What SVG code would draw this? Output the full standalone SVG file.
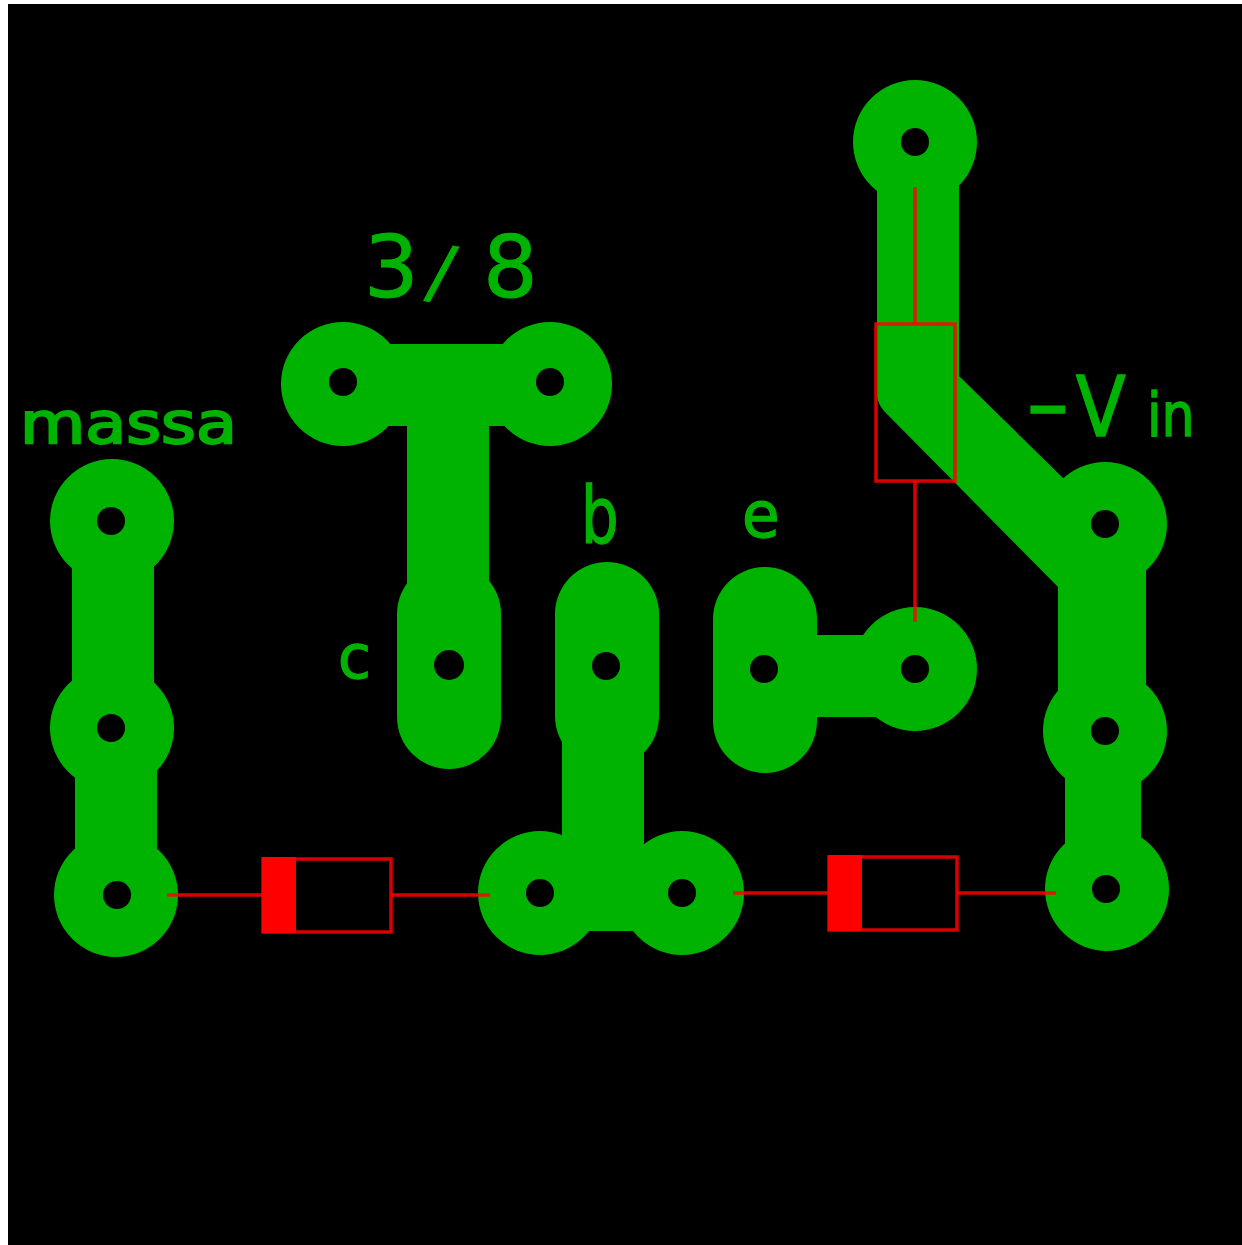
<svg xmlns="http://www.w3.org/2000/svg" width="1242" height="1245" viewBox="0 0 1242 1245">
<defs>
<style>
.pad{fill:#00b300}
.hole{fill:#000}
.tr{fill:none;stroke:#00b300;stroke-linecap:butt;stroke-linejoin:round}
.oval{fill:none;stroke:#00b300;stroke-width:104;stroke-linecap:round}
.red{fill:none;stroke:#ff0000;stroke-width:3.5;opacity:.85}
.band{fill:#ff0000}
text{fill:#00b300;stroke:#00b300;font-family:"DejaVu Sans",sans-serif}
</style>
<g id="p"><circle class="pad" r="62"/></g>
</defs>
<rect width="1242" height="1245" fill="#fff"/>
<rect x="8" y="4" width="1234" height="1241" fill="#000"/>
<g id="copper-traces">
<path class="tr" stroke-width="82" d="M113 521V728"/>
<path class="tr" stroke-width="82" d="M116 728V895"/>
<path class="tr" stroke-width="82" d="M343 385H550"/>
<path class="tr" stroke-width="82" d="M448 385V665"/>
<path class="tr" stroke-width="82" d="M603 665V893"/>
<path class="tr" stroke-width="76" d="M540 893H682"/>
<path class="tr" stroke-width="82" d="M764 676H916"/>
<path class="pad" d="M877 142H959V376L1063 478L1105 524L1146 560V731H1058V587L884 411Q878 404 877 396Z"/>
<path class="tr" stroke-width="76" d="M1103 731V889"/>
<path class="oval" d="M449 614V717"/>
<path class="oval" d="M607 614V716"/>
<path class="oval" d="M765 619V721"/>
</g>
<g id="pad-1"><use href="#p" x="915" y="142"/><circle class="hole" cx="915" cy="142" r="14"/></g>
<g id="pad-2"><use href="#p" x="343" y="384"/><circle class="hole" cx="343" cy="382" r="14"/></g>
<g id="pad-3"><use href="#p" x="550" y="384"/><circle class="hole" cx="550" cy="382" r="14"/></g>
<g id="pad-4"><use href="#p" x="112" y="521"/><circle class="hole" cx="111" cy="521" r="14"/></g>
<g id="pad-5"><use href="#p" x="112" y="728"/><circle class="hole" cx="111" cy="728" r="14"/></g>
<g id="pad-6"><use href="#p" x="116" y="895"/><circle class="hole" cx="117" cy="895" r="14"/></g>
<g id="pad-c"><circle class="hole" cx="449" cy="665" r="15"/></g>
<g id="pad-b"><circle class="hole" cx="606" cy="666" r="14"/></g>
<g id="pad-e"><circle class="hole" cx="764" cy="669" r="14"/></g>
<g id="pad-7"><use href="#p" x="915" y="669"/><circle class="hole" cx="915" cy="669" r="14"/></g>
<g id="pad-8"><use href="#p" x="1105" y="524"/><circle class="hole" cx="1105" cy="524" r="14"/></g>
<g id="pad-9"><use href="#p" x="1105" y="731"/><circle class="hole" cx="1105" cy="731" r="14"/></g>
<g id="pad-10"><use href="#p" x="1107" y="889"/><circle class="hole" cx="1106" cy="889" r="14"/></g>
<g id="pad-11"><use href="#p" x="540" y="893"/><circle class="hole" cx="540" cy="893" r="14"/></g>
<g id="pad-12"><use href="#p" x="682" y="893"/><circle class="hole" cx="682" cy="893" r="14"/></g>
<g id="connectors">
<path class="red" d="M167 895H263M391 895H490"/>
<path class="red" d="M733 893H829M957 893H1056"/>
<path class="red" d="M915 187V324M915 481V622"/>
</g>
<g id="diode-1"><rect class="band" x="262" y="857" width="34" height="76"/><rect class="red" x="263" y="859" width="128" height="73"/></g>
<g id="diode-2"><rect class="band" x="828" y="855" width="34" height="76"/><rect class="red" x="829" y="857" width="128" height="73"/></g>
<g id="resistor"><rect class="red" x="876" y="324" width="79" height="157"/></g>
<g id="labels">
<text transform="translate(20 443) scale(1 .86)" font-size="66" stroke-width="2.5" textLength="217" lengthAdjust="spacingAndGlyphs">massa</text>
<text x="364" y="297" font-size="86" stroke-width="1">3<tspan x="425" y="294" font-size="72" rotate="11">/</tspan><tspan x="483" y="297">8</tspan></text>
<text transform="translate(338 678) scale(.88 .88)" font-size="68" stroke-width="1.5">c</text>
<text transform="translate(581 543) scale(.76 1)" font-size="78" stroke-width="1.5">b</text>
<text transform="translate(742 537) scale(.85 .88)" font-size="72" stroke-width="1.5">e</text>
<text transform="translate(1027 436) scale(.87 1)" font-size="84" stroke-width="1.5"><tspan font-size="96">–</tspan><tspan x="56">V</tspan><tspan x="138" font-size="60">in</tspan></text>
</g>
</svg>
